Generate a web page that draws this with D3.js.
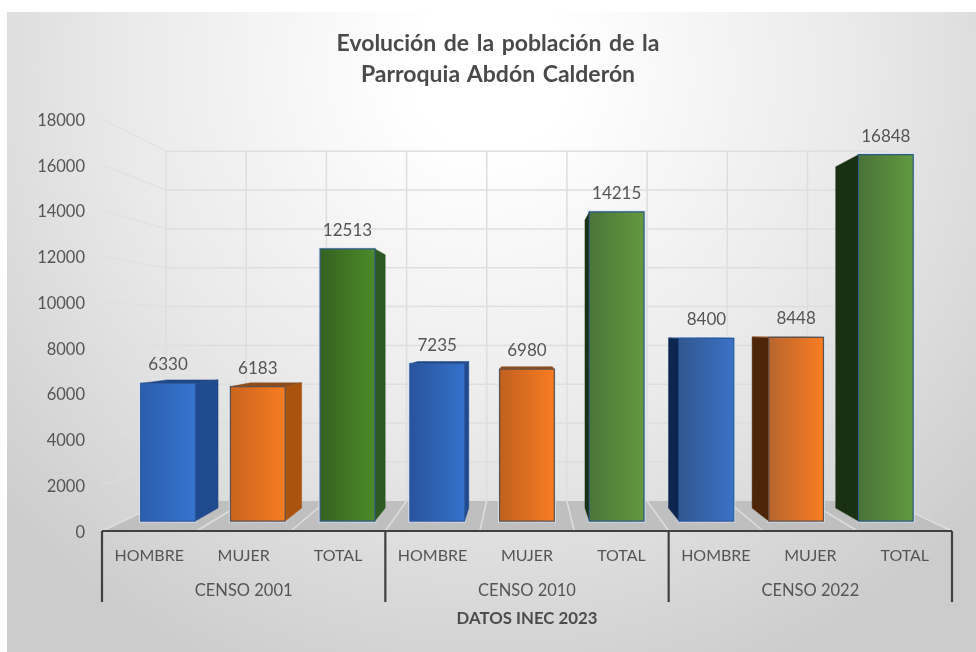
<!DOCTYPE html>
<html lang="es">
  <head>
    <meta charset="UTF-8" />
    <title>Evolución de la población</title>
    <script src="https://d3js.org/d3.v7.min.js"></script>
    <style>
      body { margin: 0; background: #fff; }
      svg { display: block; filter: blur(0.45px); font-family: Lato, sans-serif; }
    </style>
  </head>
  <body>
    <div id="chart"></div>
    <script>
      // data
      const groups = ['CENSO 2001', 'CENSO 2010', 'CENSO 2022']
      const categories = ['HOMBRE', 'MUJER', 'TOTAL']
      const censo2001 = [6330, 6183, 12513]
      const censo2010 = [7235, 6980, 14215]
      const censo2022 = [8400, 8448, 16848]
      const yTicks = [0, 2000, 4000, 6000, 8000, 10000, 12000, 14000, 16000, 18000]
      const titleLines = ['Evolución de la población de la', 'Parroquia Abdón Calderón']
      const axisTitle = 'DATOS INEC 2023'

      const width = 976, height = 652

      // one row per bar
      const rows = [censo2001, censo2010, censo2022].flatMap((vals, g) =>
        vals.map((value, c) => ({ key: g + '-' + c, g, c, value }))
      )

      // face colours per category: [left, right] per census
      const faceColor = [
        [['#2c5eac', '#3674d0'], ['#28549c', '#3472cc'], ['#31588f', '#3a72c6']],
        [['#c8641e', '#f97c22'], ['#c0601e', '#f97c22'], ['#b8652e', '#f97c22']],
        [['#35621f', '#4c8a2a'], ['#4a7538', '#63993f'], ['#4a7338', '#619a41']]
      ]
      const sideRight = ['#204a8e', '#a9530f', '#2d5a22']
      const sideLeft = ['#0d2650', '#4d2509', '#1a3012']
      const topColor = ['#1f4788', '#8e4c1c', '#2f5a2a']
      const edgeColor = ['#2c5a9c', '#5f5048', '#2f5a80']

      const svg = d3.select('#chart').append('svg').attr('width', width).attr('height', height)
      const defs = svg.append('defs')

      const bg = defs.append('radialGradient').attr('id', 'bg')
        .attr('gradientUnits', 'userSpaceOnUse')
        .attr('cx', 490).attr('cy', 70).attr('r', 660)
      bg.append('stop').attr('offset', 0.12).attr('stop-color', '#ffffff')
      bg.append('stop').attr('offset', 0.55).attr('stop-color', '#eaeaea')
      bg.append('stop').attr('offset', 1).attr('stop-color', '#cccccc')

      rows.forEach(d => {
        const grad = defs.append('linearGradient').attr('id', 'face' + d.key)
        grad.append('stop').attr('offset', 0).attr('stop-color', faceColor[d.c][d.g][0])
        grad.append('stop').attr('offset', 1).attr('stop-color', faceColor[d.c][d.g][1])
      })

      svg.append('rect').attr('x', 7).attr('y', 12)
        .attr('width', width - 7).attr('height', height - 12).attr('fill', 'url(#bg)')

      // scales: everything is laid out on the front plane, then pushed back in perspective
      const x = d3.scaleBand().domain(rows.map(d => d.key)).range([102, 952])
      const bar = d3.scaleBand().domain(rows.map(d => d.key)).range([102, 952]).paddingInner(0.39).paddingOuter(0.195)
      const y = d3.scaleLinear().domain([0, 18000]).range([531, 119])

      const vx = 526, vy = 332
      const depthWall = 0.849, depthFront = 0.95, depthBack = 0.885
      const project = (px, py, k) => [vx + (px - vx) * k, vy + (py - vy) * k]
      const poly = pts => d3.line()(pts) + 'Z'

      // floor
      svg.append('path')
        .attr('d', poly([
          project(x.range()[0], y(0), 1),
          project(x.range()[0], y(0), depthWall),
          project(x.range()[1], y(0), depthWall),
          project(x.range()[1], y(0), 1)
        ]))
        .attr('fill', '#bfbfbf')

      const bounds = d3.range(0, rows.length + 1).map(i => x.range()[0] + i * x.step())

      svg.append('g').selectAll('line').data(bounds).join('line')
        .attr('x1', d => project(d, y(0), 1)[0]).attr('y1', d => project(d, y(0), 1)[1])
        .attr('x2', d => project(d, y(0), depthWall)[0]).attr('y2', d => project(d, y(0), depthWall)[1])
        .attr('stroke', '#dedede').attr('stroke-width', 1.5)

      // back wall and left wall grid
      const grid = svg.append('g').attr('stroke', '#dedede').attr('stroke-width', 1.5).attr('fill', 'none')
      grid.selectAll('.h').data(yTicks.slice(1)).join('line').attr('class', 'h')
        .attr('x1', project(x.range()[0], 0, depthWall)[0])
        .attr('x2', project(x.range()[1], 0, depthWall)[0])
        .attr('y1', d => project(0, y(d), depthWall)[1])
        .attr('y2', d => project(0, y(d), depthWall)[1])
      grid.selectAll('.v').data(bounds).join('line').attr('class', 'v')
        .attr('x1', d => project(d, 0, depthWall)[0])
        .attr('x2', d => project(d, 0, depthWall)[0])
        .attr('y1', project(0, y(18000), depthWall)[1])
        .attr('y2', project(0, y(0), depthWall)[1])
      grid.selectAll('.w').data(yTicks.slice(1)).join('line').attr('class', 'w')
        .attr('opacity', 0.7)
        .attr('x1', project(x.range()[0], 0, 1)[0])
        .attr('y1', d => project(0, y(d), 1)[1])
        .attr('x2', project(x.range()[0], 0, depthWall)[0])
        .attr('y2', d => project(0, y(d), depthWall)[1])

      // bars
      const bars = svg.append('g').selectAll('g').data(rows).join('g')
      bars.each(function (d) {
        const g = d3.select(this)
        const l = bar(d.key), r = l + bar.bandwidth()
        const fl = a => project(l, y(a), depthFront), fr = a => project(r, y(a), depthFront)
        const bl = a => project(l, y(a), depthBack), br = a => project(r, y(a), depthBack)
        const v = d.value

        // pale halo round the front face
        g.append('path').attr('d', poly([fl(0), fr(0), fr(v), fl(v)]))
          .attr('fill', 'none').attr('stroke', '#d3e2f4').attr('stroke-width', 3)

        if (br(0)[0] > fr(0)[0]) {
          g.append('path').attr('d', poly([fr(0), br(0), br(v), fr(v)]))
            .attr('fill', sideRight[d.c]).attr('stroke', sideRight[d.c]).attr('stroke-width', 0.5)
        }
        if (bl(0)[0] < fl(0)[0]) {
          g.append('path').attr('d', poly([fl(0), bl(0), bl(v), fl(v)]))
            .attr('fill', sideLeft[d.c]).attr('stroke', sideLeft[d.c]).attr('stroke-width', 0.5)
        }
        if (bl(v)[1] < fl(v)[1]) {
          g.append('path').attr('d', poly([fl(v), bl(v), br(v), fr(v)]))
            .attr('fill', topColor[d.c]).attr('stroke', topColor[d.c]).attr('stroke-width', 0.5)
        }
        g.append('path').attr('d', poly([fl(0), fr(0), fr(v), fl(v)]))
          .attr('fill', 'url(#face' + d.key + ')')
          .attr('stroke', edgeColor[d.c]).attr('stroke-width', 1.2)

        svg.append('text')
          .attr('x', (fl(v)[0] + fr(v)[0]) / 2)
          .attr('y', fl(v)[1] - 13)
          .attr('text-anchor', 'middle')
          .attr('font-size', 17).attr('fill', '#555555')
          .text(v)
      })

      // y axis
      const yAxis = svg.append('g')
        .attr('transform', 'translate(100,1)')
        .call(d3.axisLeft(y).tickValues(yTicks).tickSize(0).tickPadding(15).tickFormat(d3.format('d')))
      yAxis.select('.domain').remove()
      yAxis.selectAll('text').attr('font-family', 'Lato, sans-serif').attr('font-size', 16.5).attr('fill', '#555555')

      // two level category axis
      const axisG = svg.append('g').attr('stroke', '#404040').attr('stroke-width', 2.2)
      axisG.append('line')
        .attr('x1', x.range()[0]).attr('x2', x.range()[1])
        .attr('y1', y(0)).attr('y2', y(0))
      axisG.selectAll('line.t').data(d3.range(groups.length + 1)).join('line').attr('class', 't')
        .attr('x1', i => x.range()[0] + i * categories.length * x.step())
        .attr('x2', i => x.range()[0] + i * categories.length * x.step())
        .attr('y1', y(0)).attr('y2', y(0) + 71)

      svg.append('g').selectAll('text').data(rows).join('text')
        .attr('x', d => x(d.key) + x.bandwidth() / 2)
        .attr('y', y(0) + 30)
        .attr('text-anchor', 'middle').attr('font-size', 16).attr('fill', '#555555')
        .text(d => categories[d.c])

      svg.append('g').selectAll('text').data(groups).join('text')
        .attr('x', (d, i) => x.range()[0] + (i + 0.5) * categories.length * x.step())
        .attr('y', y(0) + 65)
        .attr('text-anchor', 'middle').attr('font-size', 16.5).attr('fill', '#555555')
        .text(d => d)

      svg.append('text').attr('x', 527).attr('y', 624)
        .attr('text-anchor', 'middle').attr('font-size', 16.8).attr('font-weight', 700).attr('fill', '#4c4c4c')
        .text(axisTitle)

      // title
      svg.append('g').selectAll('text').data(titleLines).join('text')
        .attr('x', 498).attr('y', (d, i) => 51 + i * 31)
        .attr('text-anchor', 'middle').attr('font-size', 23).attr('font-weight', 700)
        .attr('fill', '#4a4a4a').attr('word-spacing', 2)
        .text(d => d)
    </script>
  </body>
</html>
